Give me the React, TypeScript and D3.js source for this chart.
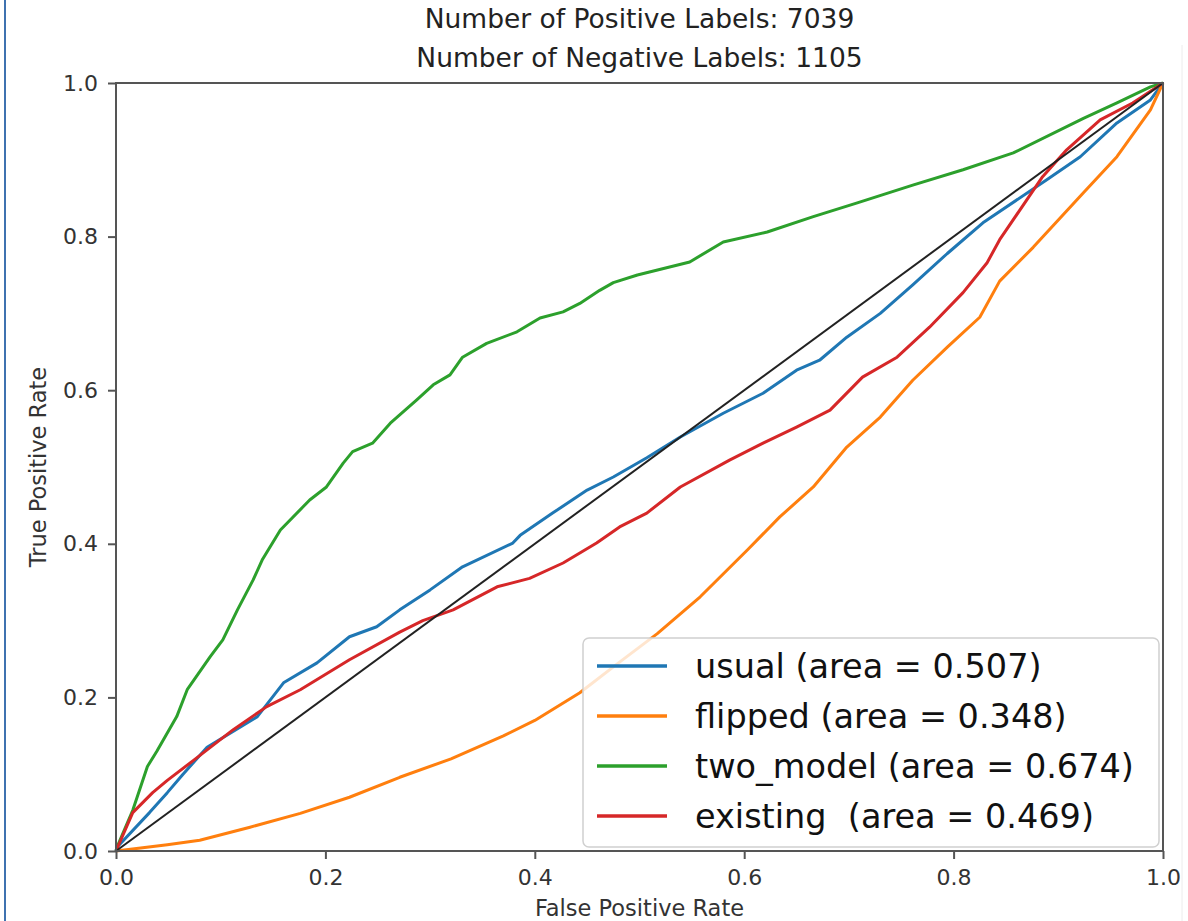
import React, { useEffect, useRef } from "react";
import * as d3 from "d3";

// ROC curves
const usualFpr = [0, 0.001, 0.032, 0.049, 0.064, 0.087, 0.135, 0.16, 0.192, 0.223, 0.249, 0.271, 0.3, 0.331, 0.379, 0.386, 0.417, 0.45, 0.475, 0.507, 0.539, 0.58, 0.618, 0.65, 0.672, 0.698, 0.73, 0.761, 0.794, 0.828, 0.889, 0.921, 0.956, 0.988, 1];
const usualTpr = [0, 0.005, 0.05, 0.076, 0.1, 0.135, 0.175, 0.219, 0.245, 0.279, 0.292, 0.314, 0.34, 0.37, 0.401, 0.411, 0.44, 0.47, 0.487, 0.512, 0.539, 0.57, 0.596, 0.626, 0.639, 0.669, 0.7, 0.737, 0.778, 0.818, 0.874, 0.904, 0.948, 0.978, 1];

const flippedFpr = [0, 0.049, 0.08, 0.128, 0.176, 0.223, 0.271, 0.32, 0.37, 0.4, 0.443, 0.48, 0.517, 0.558, 0.603, 0.634, 0.666, 0.698, 0.73, 0.761, 0.794, 0.825, 0.844, 0.876, 0.924, 0.956, 0.988, 1];
const flippedTpr = [0, 0.008, 0.014, 0.031, 0.049, 0.07, 0.096, 0.12, 0.15, 0.17, 0.206, 0.245, 0.283, 0.331, 0.392, 0.435, 0.474, 0.526, 0.565, 0.613, 0.656, 0.695, 0.742, 0.786, 0.857, 0.904, 0.965, 1];

const twoModelFpr = [0, 0.001, 0.016, 0.03, 0.039, 0.058, 0.068, 0.09, 0.102, 0.116, 0.131, 0.14, 0.157, 0.185, 0.201, 0.217, 0.226, 0.245, 0.262, 0.287, 0.303, 0.319, 0.331, 0.354, 0.383, 0.405, 0.427, 0.443, 0.462, 0.475, 0.498, 0.548, 0.58, 0.622, 0.666, 0.708, 0.761, 0.809, 0.857, 0.924, 0.956, 0.988, 1];
const twoModelTpr = [0, 0.005, 0.053, 0.11, 0.13, 0.175, 0.21, 0.253, 0.275, 0.314, 0.353, 0.38, 0.418, 0.457, 0.474, 0.505, 0.52, 0.531, 0.557, 0.587, 0.607, 0.62, 0.643, 0.661, 0.676, 0.694, 0.702, 0.713, 0.73, 0.74, 0.75, 0.767, 0.793, 0.806, 0.826, 0.844, 0.867, 0.887, 0.909, 0.954, 0.974, 0.995, 1];

const existingFpr = [0, 0.016, 0.035, 0.049, 0.074, 0.112, 0.144, 0.176, 0.223, 0.271, 0.293, 0.322, 0.364, 0.395, 0.427, 0.459, 0.481, 0.507, 0.539, 0.586, 0.618, 0.65, 0.682, 0.713, 0.746, 0.777, 0.809, 0.832, 0.844, 0.885, 0.908, 0.94, 0.971, 1];
const existingTpr = [0, 0.05, 0.076, 0.092, 0.118, 0.158, 0.188, 0.21, 0.249, 0.285, 0.3, 0.314, 0.344, 0.355, 0.375, 0.401, 0.422, 0.44, 0.474, 0.509, 0.531, 0.552, 0.574, 0.617, 0.643, 0.682, 0.727, 0.766, 0.796, 0.878, 0.913, 0.952, 0.974, 1];

const diagFpr = [0, 1];
const diagTpr = [0, 1];

const seriesNames = ["usual", "flipped", "two_model", "existing"];
const legendLabels = ["usual (area = 0.507)", "flipped (area = 0.348)", "two_model (area = 0.674)", "existing  (area = 0.469)"];
const seriesColors = ["#1f77b4", "#ff7f0e", "#2ca02c", "#d62728"];
const tickValues = [0, 0.2, 0.4, 0.6, 0.8, 1.0];
const titleLines = ["Number of Positive Labels: 7039", "Number of Negative Labels: 1105"];

export default function App() {
  const svgRef = useRef(null);

  useEffect(() => {
    const width = 1188;
    const height = 921;
    const margin = { left: 116, top: 83, right: 25, bottom: 70 };
    const svg = d3.select(svgRef.current)
      .attr('width', width)
      .attr('height', height);

    svg.selectAll('*').remove();

    svg.append('rect').attr('width', width).attr('height', height).attr('fill', '#fff');

    // frame lines of the screenshot
    svg.append('line')
      .attr('x1', 5).attr('x2', 5).attr('y1', 0).attr('y2', height)
      .attr('stroke', '#3f72b0').attr('stroke-width', 2);
    svg.append('line')
      .attr('x1', 1182).attr('x2', 1182).attr('y1', 45).attr('y2', height)
      .attr('stroke', '#ececec').attr('stroke-width', 1);

    const xScale = d3.scaleLinear()
      .domain([0, 1])
      .range([margin.left, width - margin.right]);
    const yScale = d3.scaleLinear()
      .domain([0, 1])
      .range([height - margin.bottom, margin.top]);

    const line = d3.line()
      .x(d => xScale(d[0]))
      .y(d => yScale(d[1]));

    // curves
    const curves = [
      [usualFpr, usualTpr],
      [flippedFpr, flippedTpr],
      [twoModelFpr, twoModelTpr],
      [existingFpr, existingTpr],
    ];
    curves.forEach((c, i) => {
      const pts = c[0].map((x, j) => [x, c[1][j]]);
      svg.append('path')
        .attr('class', seriesNames[i])
        .attr('d', line(pts))
        .attr('fill', 'none')
        .attr('stroke', seriesColors[i])
        .attr('stroke-width', 3)
        .attr('stroke-linejoin', 'round');
    });

    // chance line
    svg.append('path')
      .attr('d', line(diagFpr.map((x, j) => [x, diagTpr[j]])))
      .attr('stroke', '#222')
      .attr('stroke-width', 2)
      .attr('fill', 'none');

    // axes
    const xAxis = svg.append('g')
      .attr('transform', `translate(0,${height - margin.bottom})`)
      .call(d3.axisBottom(xScale).tickValues(tickValues).tickFormat(d3.format('.1f')).tickSize(8).tickPadding(10));
    const yAxis = svg.append('g')
      .attr('transform', `translate(${margin.left},0)`)
      .call(d3.axisLeft(yScale).tickValues(tickValues).tickFormat(d3.format('.1f')).tickSize(8).tickPadding(10));
    [xAxis, yAxis].forEach(a => {
      a.select('.domain').remove();
      a.selectAll('line').attr('stroke', '#555').attr('stroke-width', 2);
      a.selectAll('text')
        .attr('fill', '#333')
        .style('font-family', 'DejaVu Sans')
        .style('font-size', '22px');
    });

    // spines
    svg.append('rect')
      .attr('x', xScale(0)).attr('y', yScale(1))
      .attr('width', xScale(1) - xScale(0)).attr('height', yScale(0) - yScale(1))
      .attr('fill', 'none').attr('stroke', '#555').attr('stroke-width', 2);

    // titles
    titleLines.forEach((t, i) => {
      svg.append('text')
        .attr('x', (xScale(0) + xScale(1)) / 2)
        .attr('y', 28 + i * 39)
        .attr('text-anchor', 'middle')
        .attr('fill', '#222')
        .style('font-family', 'DejaVu Sans')
        .style('font-size', '26.5px')
        .text(t);
    });

    svg.append('text')
      .attr('x', (xScale(0) + xScale(1)) / 2)
      .attr('y', 916)
      .attr('text-anchor', 'middle')
      .attr('fill', '#333')
      .style('font-family', 'DejaVu Sans')
      .style('font-size', '22.5px')
      .text('False Positive Rate');

    svg.append('text')
      .attr('transform', `translate(46,${(yScale(0) + yScale(1)) / 2}) rotate(-90)`)
      .attr('text-anchor', 'middle')
      .attr('fill', '#333')
      .style('font-family', 'DejaVu Sans')
      .style('font-size', '22.5px')
      .text('True Positive Rate');

    // legend
    const lg = svg.append('g').attr('transform', 'translate(583,638)');
    lg.append('rect')
      .attr('width', 576).attr('height', 209)
      .attr('rx', 6)
      .attr('fill', '#fff').attr('fill-opacity', 0.8)
      .attr('stroke', '#d0d0d0').attr('stroke-width', 1.5);
    legendLabels.forEach((lab, i) => {
      const yy = 28 + i * 50;
      lg.append('line')
        .attr('x1', 14).attr('x2', 84).attr('y1', yy).attr('y2', yy)
        .attr('stroke', seriesColors[i]).attr('stroke-width', 3.5);
      lg.append('text')
        .attr('x', 112).attr('y', yy + 12)
        .attr('fill', '#111')
        .attr('xml:space', 'preserve')
        .style('white-space', 'pre')
        .style('font-family', 'DejaVu Sans')
        .style('font-size', '33.5px')
        .text(lab);
    });
  }, []);

  return (
    <svg ref={svgRef} style={{ position: 'absolute', left: 0, top: 0 }} />
  );
}
